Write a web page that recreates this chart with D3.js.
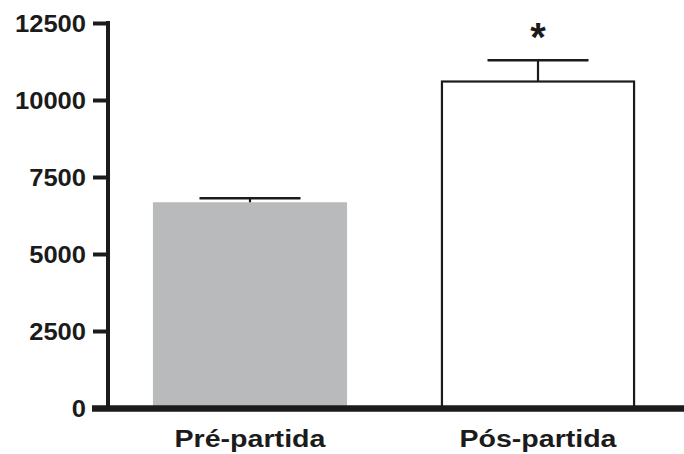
<!DOCTYPE html>
<html>
<head>
<meta charset="utf-8">
<script src="https://cdn.jsdelivr.net/npm/d3@7/dist/d3.min.js"></script>
<style>
  html, body { margin: 0; padding: 0; background: #fff; }
  svg { display: block; }
</style>
</head>
<body>
<svg id="chart" width="684" height="454"></svg>
<script>
// ---- data ----
const categories = ["Pré-partida", "Pós-partida"];
const means = [6680, 10600];
const errors = [130, 690];
const significance = ["", "*"];
const yTicks = [0, 2500, 5000, 7500, 10000, 12500];

// ---- layout ----
const W = 684, H = 454;
const axisX = 108, zeroY = 408, topY = 23;
const svg = d3.select("#chart");
const ink = "#1b1b1b";

const y = d3.scaleLinear().domain([0, 12500]).range([zeroY, topY]);
const x = d3.scaleBand().domain(categories).range([axisX, 680])
  .paddingInner(0.326).paddingOuter(0.156);

const fills = ["#b9babc", "#ffffff"];
const strokes = ["none", ink];

// bars
svg.selectAll("rect.bar").data(categories).join("rect")
  .attr("class", "bar")
  .attr("x", (d) => x(d) + (strokes[categories.indexOf(d)] === "none" ? 0 : 1))
  .attr("width", (d) => x.bandwidth() - (strokes[categories.indexOf(d)] === "none" ? 0 : 2))
  .attr("y", (d, i) => y(means[i]))
  .attr("height", (d, i) => zeroY - y(means[i]))
  .attr("fill", (d, i) => fills[i])
  .attr("stroke", (d, i) => strokes[i])
  .attr("stroke-width", 2.2);

// error bars (upper only)
const capW = 101;
categories.forEach((c, i) => {
  const cx = x(c) + x.bandwidth() / 2;
  svg.append("line").attr("x1", cx).attr("x2", cx)
    .attr("y1", y(means[i])).attr("y2", y(means[i] + errors[i]))
    .attr("stroke", ink).attr("stroke-width", 2.2);
  svg.append("line").attr("x1", cx - capW / 2).attr("x2", cx + capW / 2)
    .attr("y1", y(means[i] + errors[i])).attr("y2", y(means[i] + errors[i]))
    .attr("stroke", ink).attr("stroke-width", 2.4);
  if (significance[i]) {
    svg.append("text").attr("x", cx).attr("y", y(means[i] + errors[i]) - 9)
      .attr("text-anchor", "middle")
      .attr("font-family", "Liberation Sans, Arial, sans-serif")
      .attr("font-weight", "bold").attr("font-size", 40)
      .attr("fill", ink)
      .text(significance[i]);
  }
});

// y axis
const yAxis = d3.axisLeft(y).tickValues(yTicks).tickSize(15).tickPadding(6)
  .tickFormat(d3.format("d"));
const gy = svg.append("g").attr("transform", `translate(${axisX},0)`).call(yAxis);
gy.select(".domain").attr("stroke", ink).attr("stroke-width", 4)
  .attr("d", `M0,${topY - 2}V${zeroY}`);
gy.selectAll(".tick line").attr("stroke", ink).attr("stroke-width", 4);
gy.selectAll(".tick text")
  .attr("font-family", "Liberation Sans, Arial, sans-serif")
  .attr("font-weight", "bold").attr("font-size", 23).attr("fill", ink)
  .attr("x", -22).attr("dy", "0.36em")
  .each(function (d) {
    const s = String(d).length;
    d3.select(this).attr("textLength", s * 14.2).attr("lengthAdjust", "spacingAndGlyphs");
  });

// x axis baseline
svg.append("line").attr("x1", 92).attr("x2", W).attr("y1", zeroY + 0.5).attr("y2", zeroY + 0.5)
  .attr("stroke", ink).attr("stroke-width", 6.5);

// category labels
svg.selectAll("text.cat").data(categories).join("text")
  .attr("class", "cat")
  .attr("x", (d) => x(d) + x.bandwidth() / 2)
  .attr("y", 447)
  .attr("text-anchor", "middle")
  .attr("font-family", "Liberation Sans, Arial, sans-serif")
  .attr("font-weight", "bold").attr("font-size", 23).attr("fill", ink)
  .attr("textLength", (d, i) => i === 0 ? 151 : 157)
  .attr("lengthAdjust", "spacingAndGlyphs")
  .text((d) => d);
</script>
</body>
</html>
